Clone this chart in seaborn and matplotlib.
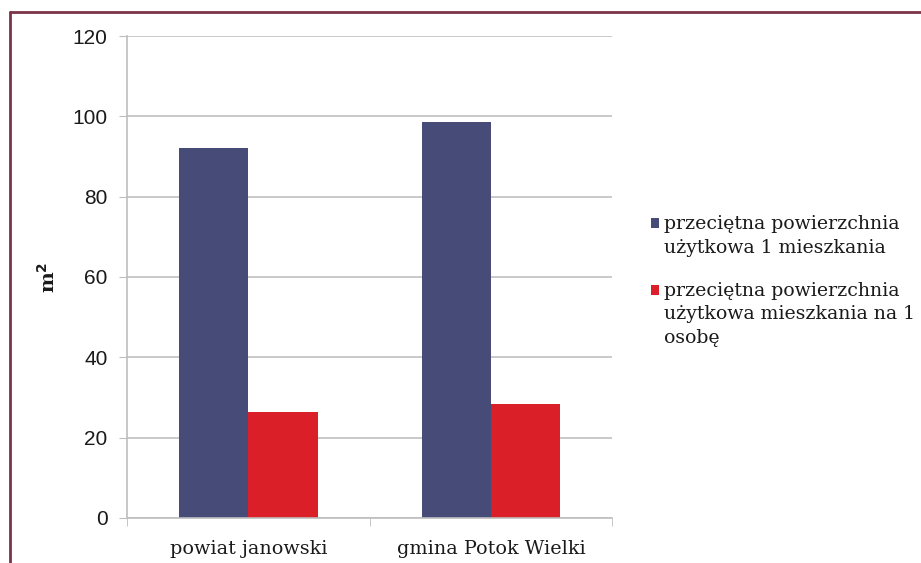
import matplotlib
matplotlib.use("Agg")
import matplotlib.pyplot as plt
import pandas as pd
import seaborn as sns
from matplotlib.lines import Line2D

categories = ["powiat janowski", "gmina Potok Wielki"]
series = ["przeciętna powierzchnia\nużytkowa 1 mieszkania",
          "przeciętna powierzchnia\nużytkowa mieszkania na 1\nosobę"]
avg_flat = [92.0, 98.7]
avg_person = [26.5, 28.3]
yticks = [0, 20, 40, 60, 80, 100, 120]

df = pd.DataFrame({
    "kategoria": categories * 2,
    "seria": [series[0]] * 2 + [series[1]] * 2,
    "wartosc": avg_flat + avg_person,
})

sns.set_style("white")
plt.rcParams["font.family"] = ["DejaVu Serif"]
plt.rcParams["text.color"] = "#1a1a1a"

fig = plt.figure(figsize=(9.21, 5.63), dpi=100)
ax = fig.add_axes([0.1379, 0.08, 0.527, 0.856])

sns.barplot(data=df, x="kategoria", y="wartosc", hue="seria",
            palette=["#464B78", "#DA1F28"], width=0.57, gap=0,
            saturation=1, ax=ax, edgecolor="none")

ax.set_ylim(0, 120)
ax.set_xlim(-0.5, 1.5)
ax.set_yticks(yticks)
ax.set_yticklabels([str(v) for v in yticks], family="Liberation Sans", fontsize=15)
ax.yaxis.grid(True, color="#C0C0C0", linewidth=1.2)
ax.set_axisbelow(True)
for s in ["top", "right"]:
    ax.spines[s].set_visible(False)
for s in ["left", "bottom"]:
    ax.spines[s].set_color("#BEBEBE")
    ax.spines[s].set_linewidth(1.2)
ax.tick_params(axis="y", length=6, color="#BEBEBE", pad=8, left=True,
               labelcolor="#1a1a1a")
ax.tick_params(axis="x", which="major", length=0, labelsize=13.8, pad=16,
               labelcolor="#1a1a1a")
ax.set_xticks([-0.5, 0.5, 1.5], minor=True)
ax.tick_params(axis="x", which="minor", length=6, color="#BEBEBE", bottom=True)
ax.set_xlabel("")
ax.set_ylabel("m$^\\mathbf{2}$", fontsize=14, fontweight="bold", labelpad=10,
              color="#1a1a1a")

handles, labels = ax.get_legend_handles_labels()
leg = ax.legend(handles, labels, loc="upper left", bbox_to_anchor=(0.688, 0.648),
                bbox_transform=fig.transFigure, frameon=False, fontsize=13.6,
                handlelength=0.45, handleheight=0.45, handletextpad=0.27,
                labelspacing=1.3)
for t in leg.get_texts():
    t.set_linespacing(1.42)
# square next to the first line of each entry, a little lower
for col in leg._legend_handle_box.get_children():
    for item in col.get_children():
        item.align = "top"
        for p in item.get_children()[0].get_children():
            p.set_y(p.get_y() - 2.2)

border = "#7B3348"
fig.add_artist(Line2D([10 / 921, 1.0], [1 - 12 / 563] * 2, color=border, lw=2,
                      transform=fig.transFigure))
fig.add_artist(Line2D([10 / 921] * 2, [0, 1 - 12 / 563], color=border, lw=2,
                      transform=fig.transFigure))

fig.savefig("out.png", dpi=100)
